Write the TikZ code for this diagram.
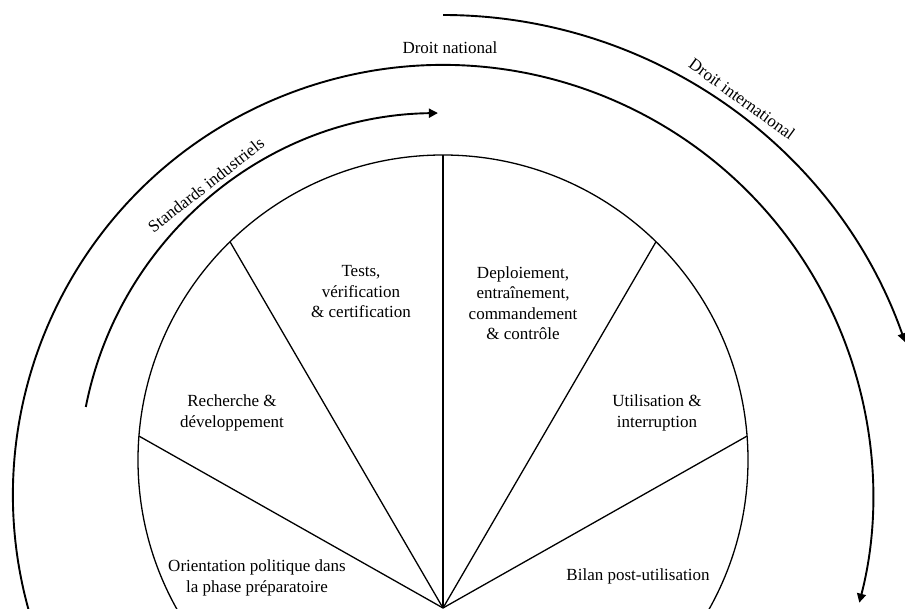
\documentclass[tikz,border=0pt]{standalone}
\usepackage{fontspec}
\setmainfont{Liberation Serif}
\usetikzlibrary{arrows.meta, calc}

\begin{document}
\begin{tikzpicture}[
    x=1pt, y=1pt,
    every node/.style={align=center, font=\fontsize{17}{20.5}\selectfont},
    arcline/.style={line width=1.9pt},
    arrow/.style={arcline, -{Triangle[length=9pt, width=9pt]}},
    spoke/.style={line width=1.3pt}
]
\useasboundingbox (0,0) rectangle (905,608);
\clip (0,0) rectangle (905,608);
\coordinate (O) at (443,0);
\coordinate (CI) at (443,148);  % phases
\coordinate (CS) at (443,131);  % standards
\coordinate (CN) at (443,113);  % national
\coordinate (CX) at (443,103);  % international

\draw[spoke] (CI) circle[radius=305pt];
\foreach \a in {175.5,134.3,90,45.7,4.5}
  \draw[spoke] (O) -- ($(CI)+(\a:305pt)$);

\draw[arrow] ($(CS)+(168.9:364pt)$) arc[start angle=168.9, end angle=90.8, radius=364pt];
\draw[arrow] ($(CN)+(200:430pt)$) arc[start angle=200, end angle=-14.5, radius=430pt];
\draw[arrow] ($(CX)+(90:490pt)$) arc[start angle=90, end angle=19.4, radius=490pt];

\node (national) at (450,560) {Droit national};
\node[rotate=-36] (intl) at (742,509) {Droit international};
\node[rotate=38] (standards) at (206,423) {Standards industriels};

\node (tests) at (361,316) {Tests,\\ vérification\\ \& certification};
\node (deploy) at (523,305) {Deploiement,\\ entraînement,\\ commandement\\ \& contrôle};
\node (rd) at (232,195) {Recherche \&\\ développement};
\node (use) at (657,195) {Utilisation \&\\ interruption};
\node (policy) at (257,30) {Orientation politique dans\\ la phase préparatoire};
\node (review) at (638,32) {Bilan post-utilisation};
\end{tikzpicture}
\end{document}
